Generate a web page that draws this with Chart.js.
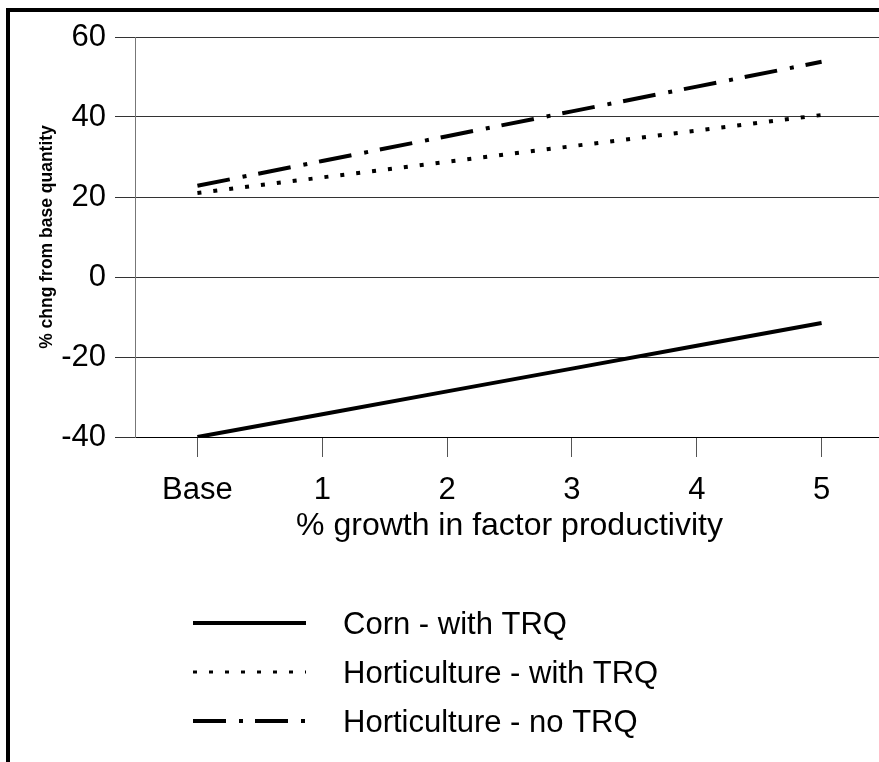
<!DOCTYPE html>
<html>
<head>
<meta charset="utf-8">
<script src="https://cdn.jsdelivr.net/npm/chart.js@4"></script>
<style>
html, body { margin: 0; padding: 0; overflow: hidden; background: #fff; }
#wrap { position: absolute; left: 0; top: 0; width: 884px; height: 762px; }
#frame { position: absolute; left: 6px; top: 8px; width: 900px; height: 800px;
  border-left: 4px solid #000; border-top: 4px solid #000; pointer-events: none; }
</style>
</head>
<body>
<div id="wrap"><canvas id="chart"></canvas></div>
<div id="frame"></div>
<script>
const labels = ['Base', '1', '2', '3', '4', '5']
const cornTRQ = [-40, -34.3, -28.6, -22.9, -17.2, -11.5]
const hortTRQ = [21, 24.9, 28.8, 32.7, 36.6, 40.5]
const hortNoTRQ = [22.8, 29, 35.2, 41.4, 47.6, 53.8]
const yTicks = [-40, -20, 0, 20, 40, 60]

const FONT = '"Liberation Sans", Arial, sans-serif'

// legend drawn under the axis, one row per series
const lineLegend = {
  id: 'lineLegend',
  afterDraw(chart) {
    const ctx = chart.ctx
    ctx.save()
    chart.data.datasets.forEach((ds, i) => {
      const y = 623 + i * 49
      ctx.strokeStyle = ds.borderColor
      ctx.lineWidth = ds.legendWidth || ds.borderWidth
      ctx.lineCap = 'butt'
      ctx.setLineDash(ds.borderDash || [])
      ctx.beginPath()
      ctx.moveTo(193, y)
      ctx.lineTo(306, y)
      ctx.stroke()
      ctx.setLineDash([])
      ctx.fillStyle = '#000'
      ctx.font = '31px ' + FONT
      ctx.textBaseline = 'middle'
      ctx.textAlign = 'left'
      ctx.fillText(ds.label, 343, y + 2)
    })
    ctx.restore()
  }
}

const data = {
  labels: labels,
  datasets: [
    {
      label: 'Corn - with TRQ',
      data: cornTRQ,
      borderColor: '#000',
      borderWidth: 4,
    },
    {
      label: 'Horticulture - with TRQ',
      data: hortTRQ,
      borderColor: '#000',
      borderWidth: 4,
      legendWidth: 3,
      borderDash: [4, 12],
    },
    {
      label: 'Horticulture - no TRQ',
      data: hortNoTRQ,
      borderColor: '#000',
      borderWidth: 4,
      borderDash: [33, 13, 4, 12],
    },
  ],
}

const config = {
  type: 'line',
  data: data,
  options: {
    responsive: true,
    maintainAspectRatio: false,
    animation: false,
    layout: { padding: { left: 0, right: 0, top: 37, bottom: 0 } },
    elements: { point: { radius: 0 }, line: { tension: 0, borderCapStyle: 'butt' } },
    plugins: { legend: { display: false }, tooltip: { enabled: false } },
    scales: {
      x: {
        offset: true,
        grid: { drawOnChartArea: false, drawTicks: true, tickLength: 20, tickColor: '#555', offset: false },
        border: { display: true, color: '#000', width: 1 },
        ticks: { color: '#000', padding: 15, font: { family: FONT, size: 31 } },
        title: {
          display: true,
          text: '% growth in factor productivity',
          color: '#000',
          font: { family: FONT, size: 32 },
          padding: { top: 0, bottom: 217 },
        },
        afterFit(scale) { scale.height = 325 },
      },
      y: {
        min: yTicks[0],
        max: yTicks[yTicks.length - 1],
        ticks: { stepSize: 20, color: '#000', padding: 9, font: { family: FONT, size: 31 } },
        grid: { color: '#333', lineWidth: 1, tickLength: 20, tickColor: '#333' },
        border: { display: true, color: '#777', width: 1 },
        title: {
          display: true,
          text: '% chng from base quantity',
          color: '#000',
          font: { family: FONT, size: 17.5, weight: 'bold' },
          padding: { top: 37, bottom: 0 },
        },
        afterFit(scale) { scale.width = 135 },
      },
    },
  },
  plugins: [lineLegend],
}

const canvas = document.getElementById('chart')
const chart = new Chart(canvas, config)
</script>
</body>
</html>
